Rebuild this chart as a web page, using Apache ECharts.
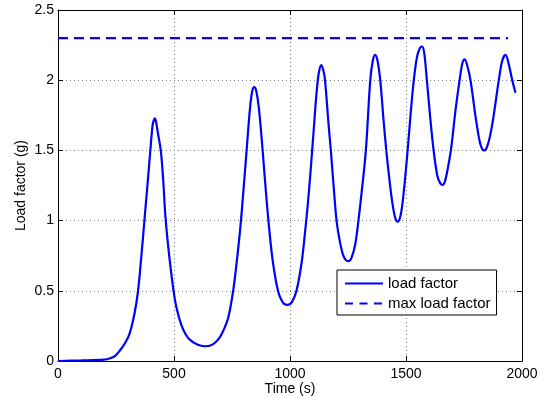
<!DOCTYPE html>
<html>
<head>
<meta charset="utf-8">
<script src="https://cdn.jsdelivr.net/npm/echarts@6/dist/echarts.min.js"></script>
<style>
html,body{margin:0;padding:0;background:#fff;}
#chart{width:545px;height:398px;}
</style>
</head>
<body>
<div id="chart"></div>
<script>
var times = [0,100,200,222,245,266,290,309,330,345,360,374,388,398,407,412,417,422,431,443,453,463,478,498,512,532,550,568,600,633,660,680,698,715,734,755,770,787,800,813,827,837,846,855,866,882,894,907,925,948,968,988,1008,1028,1050,1065,1078,1090,1101,1115,1125,1135,1145,1151,1166,1176,1194,1202,1215,1228,1240,1252,1265,1281,1295,1310,1327,1346,1357,1367,1377,1389,1403,1415,1428,1440,1452,1464,1477,1490,1507,1522,1535,1548,1560,1569,1578,1590,1604,1619,1635,1648,1658,1668,1680,1695,1713,1731,1743,1753,1763,1778,1799,1818,1830,1838,1848,1862,1878,1900,1915,1929,1942,1958,1972];
var loadFactor = [0,0.004,0.010,0.018,0.035,0.073,0.13,0.197,0.34,0.50,0.76,1.03,1.30,1.50,1.67,1.71,1.728,1.71,1.62,1.50,1.30,1.03,0.77,0.50,0.37,0.255,0.19,0.152,0.117,0.105,0.112,0.135,0.17,0.225,0.31,0.50,0.70,0.97,1.23,1.50,1.79,1.92,1.95,1.92,1.80,1.50,1.25,1.00,0.72,0.50,0.42,0.40,0.42,0.50,0.70,0.92,1.14,1.38,1.62,1.92,2.06,2.108,2.06,2.00,1.69,1.50,1.12,0.98,0.85,0.76,0.72,0.712,0.735,0.83,1.00,1.22,1.50,2.00,2.14,2.18,2.14,2.00,1.72,1.50,1.30,1.14,1.03,0.992,1.04,1.20,1.50,1.80,2.02,2.17,2.23,2.24,2.20,2.00,1.74,1.50,1.32,1.265,1.254,1.28,1.37,1.52,1.78,2.00,2.12,2.149,2.11,2.00,1.75,1.56,1.505,1.50,1.52,1.60,1.75,2.00,2.14,2.18,2.12,2.00,1.91];
var maxTimes = [0, 1940];
var maxLoad = [2.3, 2.3];
var xTicks = [0, 500, 1000, 1500, 2000];
var yTicks = [0, 0.5, 1, 1.5, 2, 2.5];

function zip(a, b){ var r=[]; for(var i=0;i<a.length;i++) r.push([a[i], b[i]]); return r; }

var font = 'Liberation Sans, Arial, Helvetica, sans-serif';
var chart = echarts.init(document.getElementById('chart'), null, {renderer:'canvas'});
var gridLine = {show:true, lineStyle:{color:'#808080', width:1, type:[1,3]}};
var axisLineBlack = {show:true, onZero:false, lineStyle:{color:'#000', width:1}};
var tickIn = {show:true, inside:true, length:5, lineStyle:{color:'#000', width:1}};
var plain = function(v){ return String(v); };

chart.setOption({
  animation:false,
  backgroundColor:'#fff',
  grid:{left:58, right:23, top:10, bottom:37, containLabel:false, outerBoundsMode:'none'},
  xAxis:[
    {type:'value', min:xTicks[0], max:xTicks[xTicks.length-1], interval:500, position:'bottom',
     name:'Time (s)', nameLocation:'middle', nameGap:21, nameMoveOverlap:false,
     nameTextStyle:{color:'#000', fontSize:14, fontFamily:font},
     axisLine:axisLineBlack, axisTick:tickIn,
     axisLabel:{color:'#000', fontSize:14, fontFamily:font, margin:6, formatter:plain},
     splitLine:gridLine},
    {type:'value', min:xTicks[0], max:xTicks[xTicks.length-1], interval:500, position:'top',
     axisLine:axisLineBlack, axisTick:tickIn, axisLabel:{show:false}, splitLine:{show:false}}
  ],
  yAxis:[
    {type:'value', min:yTicks[0], max:yTicks[yTicks.length-1], interval:0.5, position:'left',
     name:'Load factor (g)', nameLocation:'middle', nameGap:30, nameMoveOverlap:false,
     nameTextStyle:{color:'#000', fontSize:14, fontFamily:font},
     axisLine:axisLineBlack, axisTick:tickIn,
     axisLabel:{color:'#000', fontSize:14, fontFamily:font, margin:4, formatter:plain},
     splitLine:gridLine},
    {type:'value', min:yTicks[0], max:yTicks[yTicks.length-1], interval:0.5, position:'right',
     axisLine:axisLineBlack, axisTick:tickIn, axisLabel:{show:false}, splitLine:{show:false}}
  ],
  legend:{
    show:true, type:'plain', orient:'vertical', left:337, top:270,
    padding:[6,6,4,7], itemGap:5, itemWidth:38, itemHeight:14,
    backgroundColor:'#fff', borderColor:'#000', borderWidth:1, borderRadius:0,
    itemStyle:{color:'rgba(0,0,0,0)', borderColor:'rgba(0,0,0,0)', borderWidth:0, opacity:0},
    textStyle:{color:'#000', fontSize:15, fontFamily:font},
    data:[
      {name:'load factor'},
      {name:'max load factor', lineStyle:{type:[8,6.5]}}
    ]
  },
  series:[
    {name:'load factor', type:'line', data:zip(times, loadFactor), smooth:0.35,
     showSymbol:false, symbol:'none', lineStyle:{color:'#0000ff', width:2.2}, itemStyle:{color:'#0000ff'}},
    {name:'max load factor', type:'line', data:zip(maxTimes, maxLoad),
     showSymbol:false, symbol:'none', lineStyle:{color:'#0000ff', width:2.2, type:[10,6]}, itemStyle:{color:'#0000ff'}}
  ]
});
</script>
</body>
</html>
